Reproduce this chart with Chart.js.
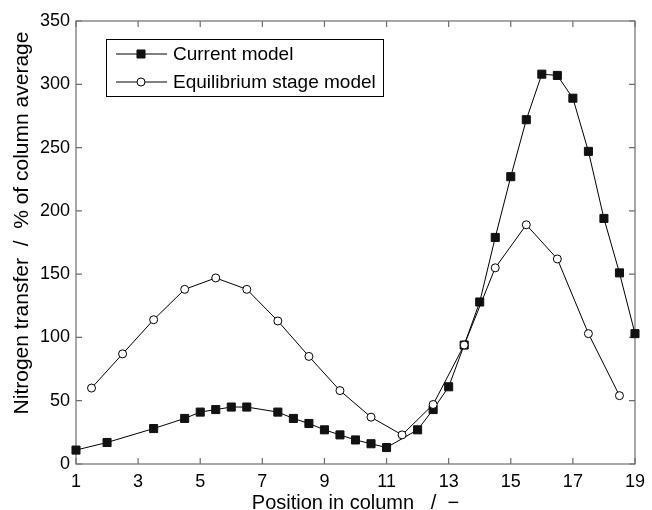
<!DOCTYPE html>
<html>
<head>
<meta charset="utf-8">
<script src="https://cdn.jsdelivr.net/npm/chart.js@4.4.1/dist/chart.umd.min.js"></script>
<style>
  body { margin: 0; background: #fff; }
  #wrap { width: 652px; height: 510px; }
</style>
</head>
<body>
<div id="wrap"><canvas id="myChart"></canvas></div>
<script>
// Current model (filled squares)
const currentX = [1, 2, 3.5, 4.5, 5, 5.5, 6, 6.5, 7.5, 8, 8.5, 9, 9.5, 10, 10.5, 11,
    12, 12.5, 13, 13.5, 14, 14.5, 15, 15.5, 16, 16.5, 17, 17.5, 18, 18.5, 19];
const currentY = [11, 17, 28, 36, 41, 43, 45, 45, 41, 36, 32, 27, 23, 19, 16, 13,
    27, 43, 61, 94, 128, 179, 227, 272, 308, 307, 289, 247, 194, 151, 103];

// Equilibrium stage model (open circles)
const equilX = [1.5, 2.5, 3.5, 4.5, 5.5, 6.5, 7.5, 8.5, 9.5, 10.5, 11.5, 12.5, 13.5,
    14.5, 15.5, 16.5, 17.5, 18.5];
const equilY = [60, 87, 114, 138, 147, 138, 113, 85, 58, 37, 23, 47, 94, 155, 189, 162, 103, 54];

const seriesNames = ['Current model', 'Equilibrium stage model'];
const xTitle = 'Position in column   /  \u2212';
const yTitle = 'Nitrogen transfer  /  % of column average';

const FONT = "'Liberation Sans', Arial, Helvetica, sans-serif";
const AXIS_GREY = '#6e6e6e';

function toPoints(xs, ys) {
    return xs.map((x, i) => ({ x: x, y: ys[i] }));
}

// frame + inward ticks on all four sides
const framePlugin = {
    id: 'frame',
    beforeDatasetsDraw(chart) {
        const { ctx, chartArea: a, scales } = chart;
        ctx.save();
        ctx.strokeStyle = AXIS_GREY;
        ctx.lineWidth = 1.2;
        ctx.strokeRect(a.left, a.top, a.right - a.left, a.bottom - a.top);
        ctx.beginPath();
        scales.x.ticks.forEach((t) => {
            const px = scales.x.getPixelForValue(t.value);
            ctx.moveTo(px, a.bottom); ctx.lineTo(px, a.bottom - 6);
            ctx.moveTo(px, a.top); ctx.lineTo(px, a.top + 6);
        });
        scales.y.ticks.forEach((t) => {
            const py = scales.y.getPixelForValue(t.value);
            ctx.moveTo(a.left, py); ctx.lineTo(a.left + 6, py);
            ctx.moveTo(a.right, py); ctx.lineTo(a.right - 6, py);
        });
        ctx.stroke();
        ctx.restore();
    },
    afterDraw(chart) {
        const { ctx } = chart;
        ctx.save();
        // y axis title
        ctx.translate(22, 223);
        ctx.rotate(-Math.PI / 2);
        ctx.font = '21px ' + FONT;
        ctx.fillStyle = '#000';
        ctx.textAlign = 'center';
        ctx.textBaseline = 'middle';
        ctx.fillText(yTitle, 0, 0);
        ctx.restore();

        // legend box
        ctx.save();
        ctx.fillStyle = '#fff';
        ctx.fillRect(106, 39, 277, 57);
        ctx.strokeStyle = '#000';
        ctx.lineWidth = 1;
        ctx.strokeRect(106.5, 39.5, 277, 57);
        ctx.font = '19px ' + FONT;
        ctx.textBaseline = 'middle';
        chart.data.datasets.forEach((ds, i) => {
            const ly = 54 + i * 28;
            ctx.strokeStyle = ds.borderColor;
            ctx.lineWidth = ds.borderWidth;
            ctx.beginPath();
            ctx.moveTo(116, ly); ctx.lineTo(167, ly);
            ctx.stroke();
            ctx.fillStyle = ds.pointBackgroundColor;
            ctx.strokeStyle = ds.pointBorderColor;
            ctx.lineWidth = ds.pointBorderWidth;
            Chart.helpers.drawPoint(ctx, {
                pointStyle: ds.pointStyle,
                radius: ds.pointRadius,
                borderWidth: ds.pointBorderWidth,
                rotation: 0,
            }, 141, ly);
            ctx.fillStyle = '#000';
            ctx.fillText(ds.label, 173, ly + 1);
        });
        ctx.restore();
    },
};

const ctx = document.getElementById('myChart').getContext('2d');
new Chart(ctx, {
    type: 'line',
    data: {
        datasets: [
            {
                label: seriesNames[0],
                data: toPoints(currentX, currentY),
                borderColor: '#000',
                borderWidth: 1,
                pointStyle: 'rect',
                pointRadius: 5.7,
                pointBackgroundColor: '#111',
                pointBorderColor: '#111',
                pointBorderWidth: 1,
                fill: false,
                tension: 0,
                clip: false,
                order: 1,
            },
            {
                label: seriesNames[1],
                data: toPoints(equilX, equilY),
                borderColor: '#000',
                borderWidth: 1,
                pointStyle: 'circle',
                pointRadius: 4,
                pointBackgroundColor: '#fff',
                pointBorderColor: '#000',
                pointBorderWidth: 1,
                fill: false,
                tension: 0,
                clip: false,
                order: 0,
            },
        ],
    },
    options: {
        responsive: true,
        maintainAspectRatio: false,
        animation: false,
        layout: { padding: { top: 21, right: 12, left: 0, bottom: 0 } },
        plugins: {
            legend: { display: false },
            tooltip: { enabled: false },
        },
        scales: {
            x: {
                type: 'linear',
                min: 1,
                max: 19,
                grid: { display: false, drawTicks: false },
                border: { display: false },
                ticks: {
                    stepSize: 2,
                    padding: 7,
                    color: '#000',
                    font: { family: FONT, size: 18 },
                    maxRotation: 0,
                },
                title: {
                    display: true,
                    text: xTitle,
                    color: '#000',
                    font: { family: FONT, size: 20, lineHeight: 0.7 },
                    padding: { top: 0, bottom: 0 },
                },
                afterFit(scale) { scale.height = 46; },
            },
            y: {
                min: 0,
                max: 350,
                grid: { display: false, drawTicks: false },
                border: { display: false },
                ticks: {
                    stepSize: 50,
                    padding: 6,
                    color: '#000',
                    font: { family: FONT, size: 18 },
                },
                afterFit(scale) { scale.width = 76; },
            },
        },
    },
    plugins: [framePlugin],
});
</script>
</body>
</html>
